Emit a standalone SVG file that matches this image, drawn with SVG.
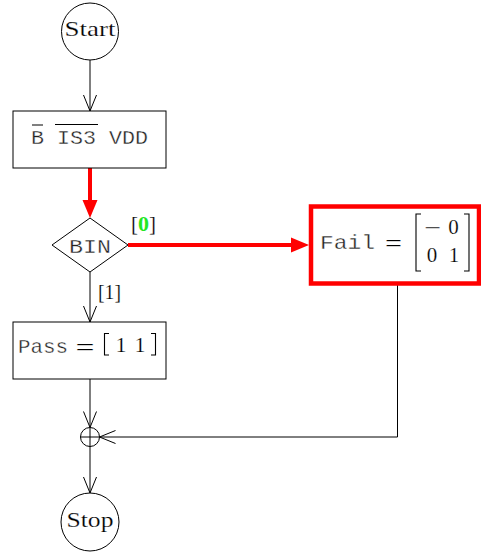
<svg xmlns="http://www.w3.org/2000/svg" width="481" height="554" viewBox="0 0 481 554">
<style>
.ser{font-family:"Liberation Serif",serif;fill:#000;stroke:#fff;stroke-width:0.2}
.mono{font-family:"Liberation Mono",monospace;fill:#222;stroke:#fff;stroke-width:0.35}
.nd{fill:#fff;stroke:#000;stroke-width:1}
.ln{fill:none;stroke:#000;stroke-width:1}
.red{fill:none;stroke:#f00;stroke-width:4}
.br{fill:none;stroke:#000;stroke-width:1.1}
</style>
<defs>
<marker id="open" markerUnits="userSpaceOnUse" markerWidth="20" markerHeight="20" refX="0" refY="0" orient="auto" overflow="visible">
<path d="M-16,-6.5 L0,0 L-16,6.5" fill="none" stroke="#000" stroke-width="1"/>
</marker>
<marker id="redhead" markerUnits="userSpaceOnUse" markerWidth="20" markerHeight="20" refX="0" refY="0" orient="auto" overflow="visible">
<path d="M0,-7.5 L18,0 L0,7.5 z" fill="#f00"/>
</marker>
</defs>
<rect width="481" height="554" fill="#fff"/>
<g id="connectors">
<line class="ln" x1="90" y1="60" x2="90" y2="111" marker-end="url(#open)"/>
<line class="red" x1="90" y1="168" x2="90" y2="200" marker-end="url(#redhead)"/>
<line class="red" x1="128" y1="245" x2="291" y2="245" marker-end="url(#redhead)"/>
<line class="ln" x1="90" y1="272" x2="90" y2="322" marker-end="url(#open)"/>
<line class="ln" x1="90" y1="379" x2="90" y2="427.5" marker-end="url(#open)"/>
<polyline class="ln" points="397.5,285 397.5,437 99.5,437" marker-end="url(#open)"/>
<line class="ln" x1="90" y1="446.5" x2="90" y2="493" marker-end="url(#open)"/>
<text class="ser" x="131" y="231" font-size="22" textLength="7" lengthAdjust="spacingAndGlyphs">[</text>
<text class="ser" x="138" y="231" font-size="22" font-weight="bold" style="fill:#22e622;stroke:none" textLength="11" lengthAdjust="spacingAndGlyphs">0</text>
<text class="ser" x="149" y="231" font-size="22" textLength="7" lengthAdjust="spacingAndGlyphs">]</text>
<text class="ser" x="98" y="299" font-size="22" textLength="23" lengthAdjust="spacingAndGlyphs">[1]</text>
</g>
<g id="start">
<circle class="nd" cx="90" cy="31.5" r="28.5"/>
<text class="ser" x="90" y="36" font-size="22" text-anchor="middle" textLength="51" lengthAdjust="spacingAndGlyphs">Start</text>
</g>
<g id="bis3">
<rect class="nd" x="13" y="111" width="153" height="57"/>
<text class="mono" x="31" y="144" font-size="21" textLength="117" lengthAdjust="spacingAndGlyphs">B IS3 VDD</text>
<line class="ln" x1="32" y1="125" x2="43" y2="125" stroke-width="1.2"/>
<line class="ln" x1="55" y1="124.5" x2="98" y2="124.5" stroke-width="1.2"/>
</g>
<g id="bin">
<polygon class="nd" points="90,218 128,245 90,272 52,245"/>
<text class="mono" x="90" y="252.5" font-size="21" text-anchor="middle" textLength="42" lengthAdjust="spacingAndGlyphs">BIN</text>
</g>
<g id="fail">
<rect x="311" y="206.5" width="168" height="77" fill="#fff" stroke="#f00" stroke-width="4.5"/>
<text class="mono" x="320" y="249" font-size="21" textLength="55" lengthAdjust="spacingAndGlyphs">Fail</text>
<text class="ser" x="393.5" y="251" font-size="24" text-anchor="middle" textLength="17" lengthAdjust="spacingAndGlyphs">=</text>
<path class="br" d="M421,214 L416,214 L416,271 L421,271"/>
<path class="br" d="M464,214 L469,214 L469,271 L464,271"/>
<text class="ser" transform="translate(432.5,235) scale(1.35,1)" font-size="22" text-anchor="middle">−</text>
<text class="ser" x="453.5" y="234" font-size="21" text-anchor="middle">0</text>
<text class="ser" x="432" y="262" font-size="21" text-anchor="middle">0</text>
<text class="ser" x="454" y="262" font-size="21" text-anchor="middle">1</text>
</g>
<g id="pass">
<rect class="nd" x="13" y="322" width="153" height="57"/>
<text class="mono" x="18" y="353" font-size="21" textLength="50" lengthAdjust="spacingAndGlyphs">Pass</text>
<text class="ser" x="85" y="355" font-size="24" text-anchor="middle" textLength="19" lengthAdjust="spacingAndGlyphs">=</text>
<path class="br" d="M109,333.5 L104.5,333.5 L104.5,355 L109,355"/>
<path class="br" d="M151,333.5 L155.5,333.5 L155.5,355 L151,355"/>
<text class="ser" x="121" y="352" font-size="22" text-anchor="middle">1</text>
<text class="ser" x="140" y="352" font-size="22" text-anchor="middle">1</text>
</g>
<g id="join">
<circle class="nd" cx="90" cy="437" r="9.5"/>
<line class="ln" x1="80.5" y1="437" x2="99.5" y2="437"/>
<line class="ln" x1="90" y1="427.5" x2="90" y2="446.5"/>
</g>
<g id="stop">
<circle class="nd" cx="90" cy="522" r="29"/>
<text class="ser" x="90" y="527" font-size="22" text-anchor="middle" textLength="47" lengthAdjust="spacingAndGlyphs">Stop</text>
</g>
</svg>
